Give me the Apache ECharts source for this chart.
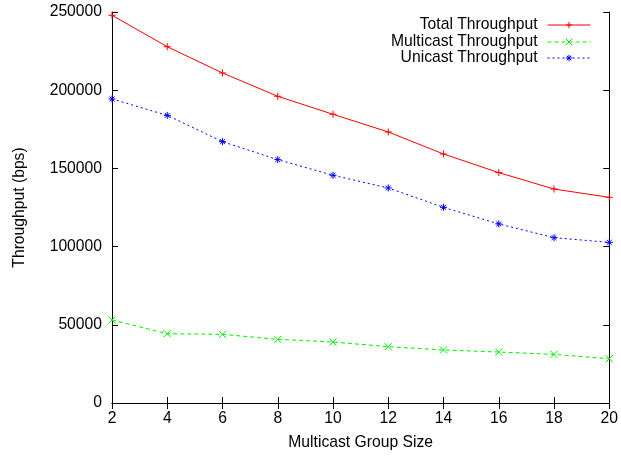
<!DOCTYPE html>
<html>
<head>
<meta charset="utf-8">
<script src="https://cdn.jsdelivr.net/npm/echarts@6/dist/echarts.min.js"></script>
<style>html,body{margin:0;padding:0;background:#fff}#c{width:621px;height:457px}</style>
</head>
<body>
<div id="c"></div>
<script>
const groupSizes = [2, 4, 6, 8, 10, 12, 14, 16, 18, 20];
const totalThroughput = [247900, 227800, 211000, 196100, 184600, 173300, 159200, 147300, 136800, 131500];
const multicastThroughput = [53100, 44300, 43900, 40700, 39000, 36000, 33900, 32600, 31100, 28300];
const unicastThroughput = [194400, 183900, 167100, 155600, 145600, 137500, 125100, 114500, 105700, 102700];
const seriesNames = ['Total Throughput', 'Multicast Throughput', 'Unicast Throughput'];
const xTicks = { min: 2, max: 20, interval: 2 };
const yTicks = { min: 0, max: 250000, interval: 50000 };

const FONT = 'Liberation Sans';
const FS = 15.7;
const pair = (xs, ys) => xs.map((x, i) => [x, ys[i]]);

const PLUS = 'path://M0,5L10,5M5,0L5,10';
const CROSS = 'path://M0,0L10,10M10,0L0,10';
const STAR = 'path://M0,5L10,5M5,0L5,10M1.5,1.5L8.5,8.5M8.5,1.5L1.5,8.5';
const COLORS = ['#ff0000', '#00ee00', '#0000ff'];
const SYMBOLS = [PLUS, CROSS, STAR];
const DASHES = ['solid', [4, 3], [2, 3]];

function mk(i, data) {
  return {
    name: seriesNames[i], type: 'line', data: data,
    symbol: SYMBOLS[i], symbolSize: 7,
    showAllSymbol: true,
    itemStyle: { color: 'none', borderColor: COLORS[i], borderWidth: 1 },
    lineStyle: { color: COLORS[i], width: 1, type: DASHES[i] },
    emphasis: { disabled: true },
    animation: false, z: 3
  };
}

const chart = echarts.init(document.getElementById('c'), null, { renderer: 'canvas' });
const tick = { show: true, inside: true, length: 6, lineStyle: { color: '#000', width: 1 } };
const axLine = { show: true, lineStyle: { color: '#000', width: 1 } };

function legendFor(i, top) {
  return {
    data: [{
      name: seriesNames[i],
      itemStyle: { color: 'none', borderColor: COLORS[i], borderWidth: 1 },
      lineStyle: { color: COLORS[i], width: 1, type: DASHES[i] }
    }],
    right: 30, top: top, orient: 'vertical', align: 'right',
    itemWidth: 43, itemHeight: 8, padding: 0,
    itemStyle: { color: 'none', borderColor: COLORS[i], borderWidth: 1 },
    lineStyle: { color: COLORS[i], width: 1, type: DASHES[i] },
    textStyle: { fontFamily: FONT, fontSize: FS, color: '#000', padding: [0, 5, 0, 0] },
    selectedMode: false
  };
}

chart.setOption({
  backgroundColor: '#fff',
  animation: false,
  grid: { left: 112, right: 11, top: 12, bottom: 54, show: false },
  legend: [legendFor(0, 17), legendFor(1, 34), legendFor(2, 50)],
  xAxis: [{
    type: 'value', min: xTicks.min, max: xTicks.max, interval: xTicks.interval,
    name: 'Multicast Group Size', nameLocation: 'middle', nameGap: 32,
    nameTextStyle: { fontFamily: FONT, fontSize: FS, color: '#000' },
    axisLine: axLine, axisTick: tick, splitLine: { show: false },
    axisLabel: { fontFamily: FONT, fontSize: FS, color: '#000', margin: 8 }
  }, {
    type: 'value', position: 'top', min: xTicks.min, max: xTicks.max, interval: xTicks.interval,
    axisLine: axLine, axisTick: tick, splitLine: { show: false }, axisLabel: { show: false }
  }],
  yAxis: [{
    type: 'value', min: yTicks.min, max: yTicks.max, interval: yTicks.interval,
    name: 'Throughput (bps)', nameLocation: 'middle', nameGap: 84,
    nameTextStyle: { fontFamily: FONT, fontSize: FS, color: '#000' },
    axisLine: axLine, axisTick: tick, splitLine: { show: false },
    axisLabel: { fontFamily: FONT, fontSize: FS, color: '#000', margin: 10, formatter: v => String(v) }
  }, {
    type: 'value', position: 'right', min: yTicks.min, max: yTicks.max, interval: yTicks.interval,
    axisLine: axLine, axisTick: tick, splitLine: { show: false }, axisLabel: { show: false }
  }],
  series: [
    mk(0, pair(groupSizes, totalThroughput)),
    mk(1, pair(groupSizes, multicastThroughput)),
    mk(2, pair(groupSizes, unicastThroughput))
  ]
});
</script>
</body>
</html>
